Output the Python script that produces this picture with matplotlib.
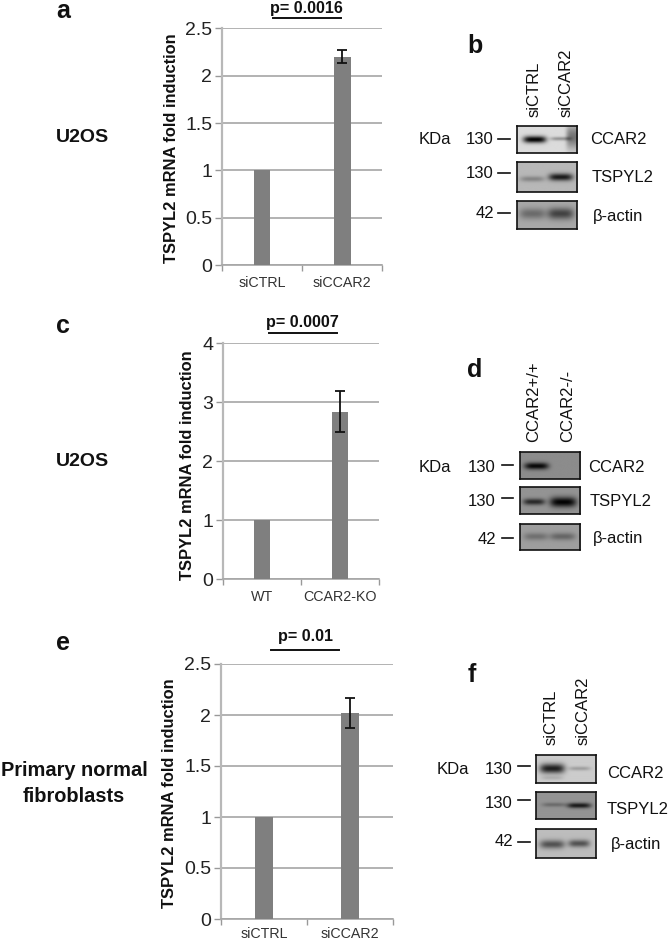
import numpy as np
import matplotlib
matplotlib.use("Agg")
import matplotlib.pyplot as plt

plt.rcParams['font.family'] = ['Liberation Sans', 'DejaVu Sans']

W, H = 670, 943

# bar chart data
cats_a = ["siCTRL", "siCCAR2"]
vals_a = [1, 2.2]
err_a = [0, 0.07]
ticks_a = [0, 0.5, 1, 1.5, 2, 2.5]
ticklabels_a = ["0", "0.5", "1", "1.5", "2", "2.5"]

cats_c = ["WT", "CCAR2-KO"]
vals_c = [1, 2.84]
err_c = [0, 0.345]
ticks_c = [0, 1, 2, 3, 4]
ticklabels_c = ["0", "1", "2", "3", "4"]

cats_e = ["siCTRL", "siCCAR2"]
vals_e = [1, 2.02]
err_e = [0, 0.15]
ticks_e = [0, 0.5, 1, 1.5, 2, 2.5]
ticklabels_e = ["0", "0.5", "1", "1.5", "2", "2.5"]

# blot bands: (x centre, y centre, half width, half height, darkness), panel fractions
bg_b = [0.86, 0.72, 0.66]
bands_b = [
    [(0.29, 0.50, 0.19, 0.13, 0.85), (0.72, 0.47, 0.17, 0.07, 0.28), (0.93, 0.40, 0.12, 0.45, 0.40)],
    [(0.25, 0.58, 0.20, 0.09, 0.20), (0.72, 0.52, 0.20, 0.12, 0.62)],
    [(0.26, 0.47, 0.22, 0.19, 0.24), (0.73, 0.47, 0.22, 0.20, 0.40)],
]
bg_d = [0.55, 0.58, 0.62]
bands_d = [
    [(0.27, 0.52, 0.20, 0.13, 0.52)],
    [(0.23, 0.55, 0.18, 0.12, 0.42), (0.71, 0.56, 0.22, 0.19, 0.57)],
    [(0.26, 0.50, 0.20, 0.14, 0.18), (0.70, 0.50, 0.21, 0.14, 0.22)],
]
bg_f = [0.80, 0.58, 0.74]
bands_f = [
    [(0.27, 0.50, 0.21, 0.17, 0.68), (0.73, 0.50, 0.18, 0.07, 0.18), (0.27, 0.83, 0.18, 0.07, 0.10)],
    [(0.30, 0.47, 0.20, 0.08, 0.16), (0.72, 0.50, 0.20, 0.10, 0.48)],
    [(0.27, 0.53, 0.21, 0.15, 0.42), (0.72, 0.50, 0.18, 0.13, 0.42)],
]

fig = plt.figure(figsize=(W / 100, H / 100), dpi=100, facecolor="white")


def px_axes(x0, y0, x1, y1):
    return fig.add_axes([x0 / W, 1 - y1 / H, (x1 - x0) / W, (y1 - y0) / H])


def bar_panel(box, cats, vals, err, ticks, ticklabels, bar_w, pad=8):
    ax = px_axes(*box)
    ax.set_facecolor("none")
    ax.bar([0, 1], vals, width=bar_w, color="#7f7f7f", zorder=3)
    ax.errorbar([1], vals[1], yerr=err[1], color="#111111", elinewidth=1.3, capsize=3.5, capthick=1.3, zorder=4)
    ax.set_xlim(-0.5, 1.5)
    ax.set_ylim(ticks[0], ticks[-1])
    ax.set_yticks(ticks)
    ax.set_yticklabels(ticklabels, fontsize=14, color="#222222")
    ax.set_xticks([-0.5, 0.5, 1.5])
    ax.set_xticklabels([])
    ax.set_xticks([0, 1], minor=True)
    ax.set_xticklabels(cats, minor=True, fontsize=10.3, color="#333333")
    ax.tick_params(axis="x", which="minor", length=0, pad=pad)
    ax.tick_params(axis="x", which="major", length=4, color="#999999", width=1)
    ax.tick_params(axis="y", length=5, color="#999999", width=1, pad=2)
    ax.grid(axis="y", color="#a6a6a6", lw=1.2, zorder=1)
    ax.set_axisbelow(True)
    ax.spines["top"].set_visible(False)
    ax.spines["right"].set_visible(False)
    ax.spines["left"].set_color("#b8b8b8")
    ax.spines["left"].set_linewidth(1.6)
    ax.spines["bottom"].set_color("#a6a6a6")
    ax.spines["bottom"].set_linewidth(1.2)
    return ax


def blot(box, bg, bands):
    ax = px_axes(*box)
    yy, xx = np.mgrid[0:1:60j, 0:1:120j]
    img = np.full(xx.shape, bg, dtype=float)
    for cx, cy, hw, hh, dark in bands:
        img -= dark * np.exp(-((xx - cx) / hw) ** 4) * np.exp(-((yy - cy) / hh) ** 2)
    ax.imshow(np.clip(img, 0, 1), cmap="gray", vmin=0, vmax=1, aspect="auto", extent=[0, 1, 1, 0], interpolation="bilinear")
    ax.set_xticks([])
    ax.set_yticks([])
    for s in ax.spines.values():
        s.set_color("#111111")
        s.set_linewidth(1.2)


bar_panel((222, 28.3, 382.3, 265.3), cats_a, vals_a, err_a, ticks_a, ticklabels_a, 0.21)
bar_panel((223, 343, 379, 579.3), cats_c, vals_c, err_c, ticks_c, ticklabels_c, 0.21)
bar_panel((221, 664, 393, 919), cats_e, vals_e, err_e, ticks_e, ticklabels_e, 0.21, pad=6)

blot((516.7, 126, 577, 152.7), bg_b[0], bands_b[0])
blot((516.5, 161.7, 576.7, 192.3), bg_b[1], bands_b[1])
blot((517.3, 201, 577, 229.3), bg_b[2], bands_b[2])
blot((519.7, 452.3, 580.3, 478.7), bg_d[0], bands_d[0])
blot((519.7, 487.3, 580.3, 514), bg_d[1], bands_d[1])
blot((519.7, 523.7, 580.3, 550.3), bg_d[2], bands_d[2])
blot((536, 754.7, 596, 783.3), bg_f[0], bands_f[0])
blot((536, 792, 596, 818.7), bg_f[1], bands_f[1])
blot((536, 829, 596, 857.7), bg_f[2], bands_f[2])

# overlay in pixel coordinates for the annotations
ov = fig.add_axes([0, 0, 1, 1], zorder=10)
ov.set_xlim(0, W)
ov.set_ylim(H, 0)
ov.axis("off")


def t(x, y, s, size, bold=False, ha="center", rot=0, color="#111111"):
    ov.text(x, y, s, fontsize=size, ha=ha, va="center", rotation=rot,
            fontweight="bold" if bold else "normal", color=color)


# panel letters
for x, y, s in [(63, 11, "a"), (475, 46, "b"), (63, 326, "c"), (475, 370, "d"), (63, 643, "e"), (472, 675, "f")]:
    t(x, y, s, 18, bold=True)

t(82, 137, "U2OS", 14, bold=True)
t(82, 461, "U2OS", 14, bold=True)
t(74, 771, "Primary normal", 14.4, bold=True)
t(74, 796, "fibroblasts", 14.4, bold=True)

# y axis titles
t(171, 148, "TSPYL2 mRNA fold induction", 11.9, bold=True, rot=90)
t(188, 465, "TSPYL2 mRNA fold induction", 11.9, bold=True, rot=90)
t(169, 793, "TSPYL2 mRNA fold induction", 11.9, bold=True, rot=90)

# p values with their bars
for x, y, s, x0, x1, yl in [(306, 8, "p= 0.0016", 273, 341, 18),
                            (302, 323, "p= 0.0007", 269, 337, 333),
                            (306, 637, "p= 0.01", 271, 339, 650)]:
    t(x, y, s, 11.6, bold=True)
    ov.plot([x0, x1], [yl, yl], color="#111111", lw=1.4)

# lane labels
for x, y, s in [(534, 117, "siCTRL"), (566, 117, "siCCAR2"),
                (534, 442, "CCAR2+/+"), (568, 442, "CCAR2-/-"),
                (551, 745, "siCTRL"), (583, 745, "siCCAR2")]:
    ov.text(x, y, s, fontsize=12, rotation=90, ha="center", va="bottom", color="#111111")

# blot side labels
for x, y in [(435, 140), (435, 467), (453, 769)]:
    t(x, y, "KDa", 12)

# size labels: text x, text y, dash start, dash end, dash y
marks = [
    (480, 140, 498, 510, 139, "130"), (480, 173, 498, 510, 172.5, "130"), (485, 213, 498, 510, 212.5, "42"),
    (482, 467, 502, 513, 465, "130"), (482, 502, 502, 513, 498, "130"), (487, 539, 502, 513, 538, "42"),
    (499, 769, 518, 530, 766, "130"), (499, 803, 518, 530, 800, "130"), (504, 842, 518, 530, 842, "42"),
]
for tx, ty, x0, x1, ly, s in marks:
    t(tx, ty, s, 12)
    ov.plot([x0, x1], [ly, ly], color="#111111", lw=1.2)

for x, y, s in [(590, 140, "CCAR2"), (592, 177, "TSPYL2"), (593, 217, "β-actin"),
                (588, 467, "CCAR2"), (590, 502, "TSPYL2"), (593, 539, "β-actin"),
                (607, 773, "CCAR2"), (607, 809, "TSPYL2"), (611, 844, "β-actin")]:
    t(x, y, s, 12, ha="left")

fig.savefig("out.png", dpi=100)
